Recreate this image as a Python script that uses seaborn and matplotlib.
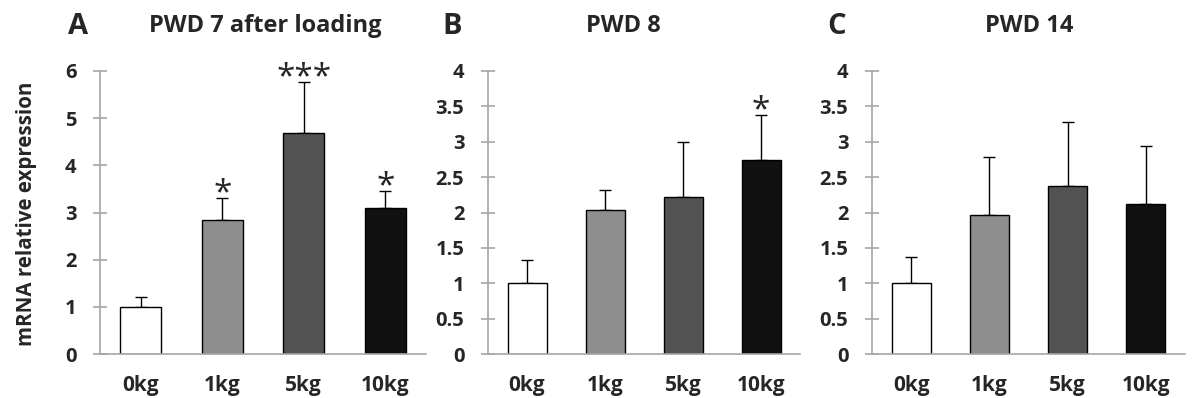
import matplotlib
matplotlib.use("Agg")
import matplotlib.pyplot as plt
import pandas as pd
import seaborn as sns

# ------------------------------------------------
# data
# ------------------------------------------------
loads = ["0kg", "1kg", "5kg", "10kg"]
bar_colors = ["#ffffff", "#8e8e8e", "#525252", "#111111"]

pwd7_mean = [1.0, 2.85, 4.69, 3.09]
pwd7_err = [0.20, 0.46, 1.07, 0.36]
pwd7_stars = ["", "*", "***", "*"]

pwd8_mean = [1.0, 2.04, 2.22, 2.74]
pwd8_err = [0.33, 0.28, 0.78, 0.64]
pwd8_stars = ["", "", "", "*"]

pwd14_mean = [1.0, 1.96, 2.38, 2.12]
pwd14_err = [0.37, 0.82, 0.90, 0.82]
pwd14_stars = ["", "", "", ""]

yticks_a = [0, 1, 2, 3, 4, 5, 6]
yticks_bc = [0, 0.5, 1, 1.5, 2, 2.5, 3, 3.5, 4]

panels = [
    ("A", "PWD 7 after loading", pwd7_mean, pwd7_err, pwd7_stars, yticks_a),
    ("B", "PWD 8", pwd8_mean, pwd8_err, pwd8_stars, yticks_bc),
    ("C", "PWD 14", pwd14_mean, pwd14_err, pwd14_stars, yticks_bc),
]

sns.set_style("white")
plt.rcParams['font.family'] = ['Open Sans', 'DejaVu Sans']
plt.rcParams['font.weight'] = 'bold'

W, H = 1193, 398
fig = plt.figure(figsize=(W / 100, H / 100), dpi=100)

# axes boxes in pixels: left, right
boxes = [(100, 426), (488, 800), (872, 1185)]
y0_px, ytop_px = 354, 71
letter_x = [78, 452, 837]
title_x = [265, 623, 1029]

axis_grey = "#a6a6a6"

for (letter, title, means, errs, stars, ticks), (l, r), lx, tx in zip(panels, boxes, letter_x, title_x):
    ax = fig.add_axes([l / W, 1 - y0_px / H, (r - l) / W, (y0_px - ytop_px) / H])
    df = pd.DataFrame({"load": loads, "value": means})
    sns.barplot(data=df, x="load", y="value", hue="load", palette=bar_colors,
                legend=False, width=0.5, edgecolor="black", linewidth=1.0,
                errorbar=None, ax=ax, zorder=2)
    ax.errorbar(range(len(loads)), means, yerr=[[0] * len(errs), errs],
                fmt="none", ecolor="black", elinewidth=1.0, capsize=4,
                capthick=1.0, zorder=1)
    for i, s in enumerate(stars):
        if s:
            ax.annotate(s, (i, means[i] + errs[i]), xytext=(0, -3),
                        textcoords="offset points", ha="center", va="baseline",
                        fontsize=24, fontweight="normal")

    ax.set_xlim(-0.5, 3.5)
    ax.set_ylim(0, ticks[-1])
    ax.set_yticks(ticks)
    ax.set_yticklabels([f"{t:g}" for t in ticks])
    ax.set_xlabel("")
    ax.set_ylabel("")
    for side in ["top", "right"]:
        ax.spines[side].set_visible(False)
    for side in ["left", "bottom"]:
        ax.spines[side].set_color(axis_grey)
        ax.spines[side].set_linewidth(1.2)
    ax.tick_params(axis="y", direction="inout", length=10, width=1.2,
                   color=axis_grey, labelsize=14.5, pad=12, left=True)
    ax.tick_params(axis="x", length=0, labelsize=15, pad=15)
    for lab in ax.get_xticklabels() + ax.get_yticklabels():
        lab.set_fontweight("bold")

    fig.text(lx / W, 1 - 26 / H, letter, ha="center", va="center",
             fontsize=21, fontweight="bold")
    fig.text(tx / W, 1 - 26 / H, title, ha="center", va="center",
             fontsize=17, fontweight="bold")

fig.text(27 / W, 1 - 214 / H, "mRNA relative expression", rotation=90,
         ha="center", va="center", fontsize=14.8, fontweight="bold")

fig.savefig("out.png", dpi=100)
